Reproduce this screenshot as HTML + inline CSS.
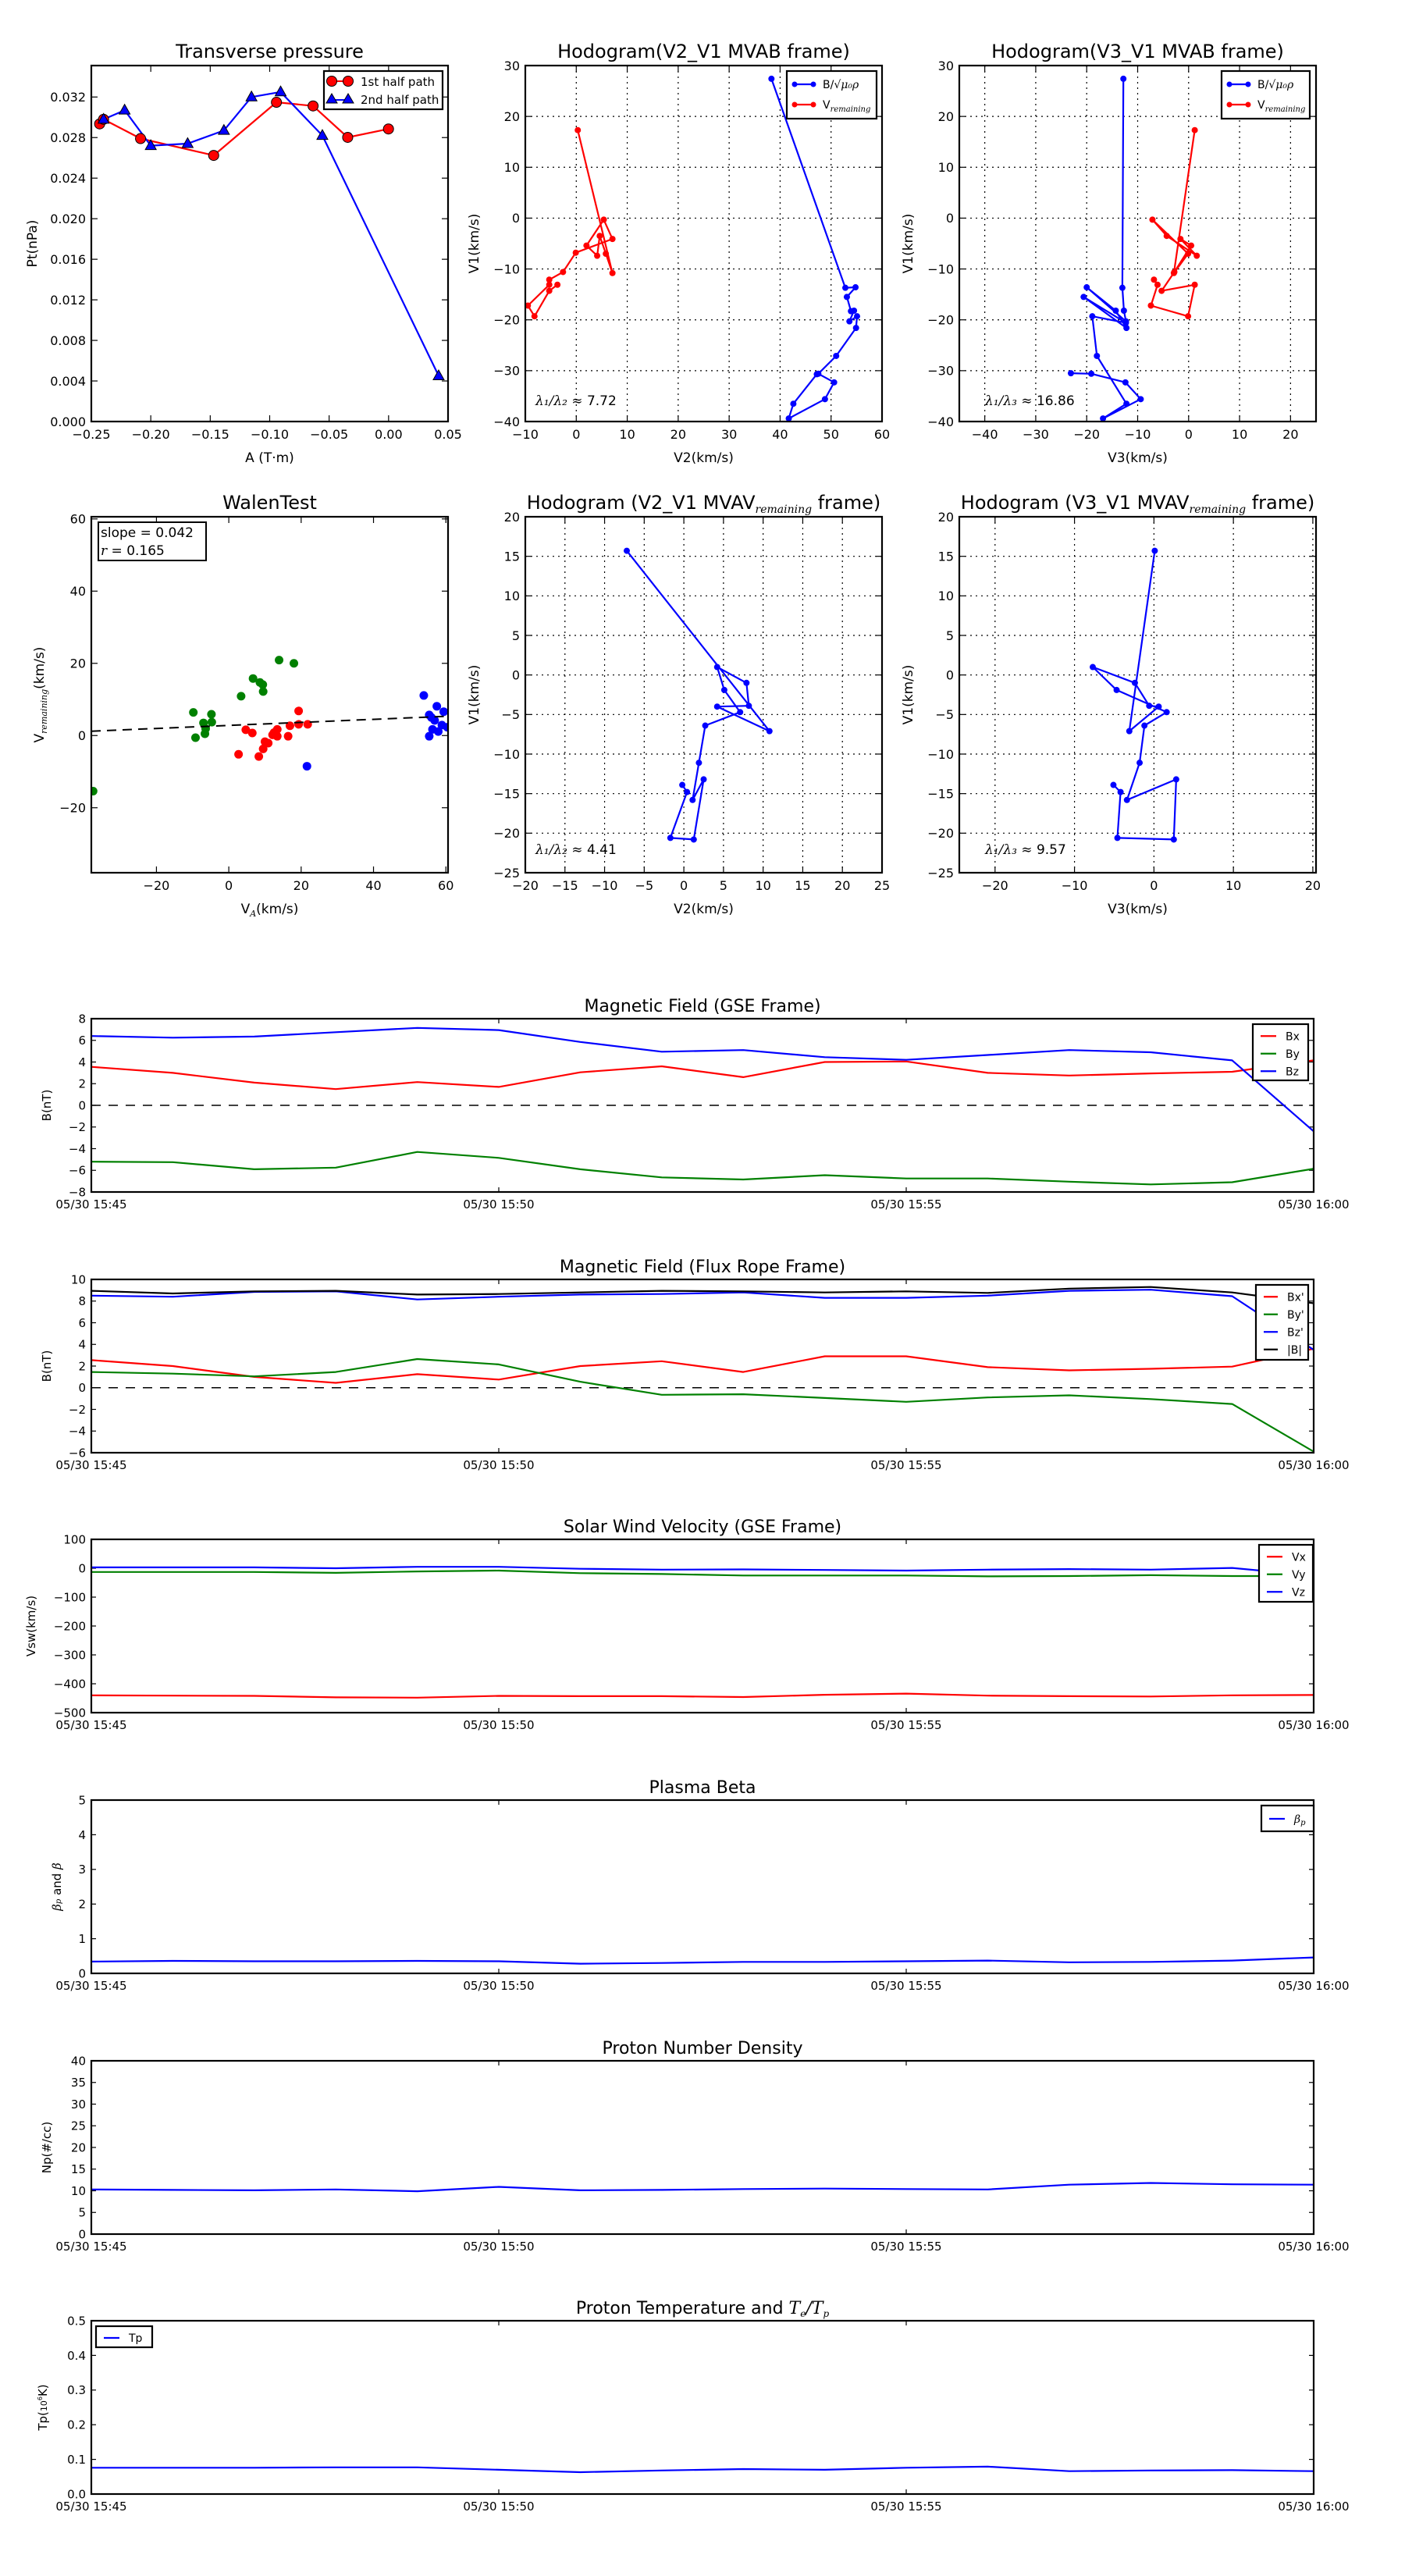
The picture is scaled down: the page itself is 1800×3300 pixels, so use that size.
<!DOCTYPE html>
<html><head><meta charset="utf-8"><title>Flux rope analysis</title>
<style>html,body{margin:0;padding:0;background:#fff}svg{display:block}text{font-family:"DejaVu Sans","Liberation Sans",sans-serif;fill:#000}</style>
</head><body>
<svg id="fig" xmlns="http://www.w3.org/2000/svg" width="1800" height="3300" viewBox="0 0 1800 3300"></svg>
<script>
// ---------- data ----------
const tpA1 = [-0.243,-0.2397,-0.2086,-0.1471,-0.0943,-0.0635,-0.0344,-0.0001];
const tpP1 = [0.02935,0.0298,0.0279,0.02624,0.03148,0.03112,0.02802,0.02885];
const tpA2 = [-0.2397,-0.222,-0.200,-0.169,-0.1385,-0.1153,-0.0908,-0.0557,0.0421];
const tpP2 = [0.0298,0.0307,0.0272,0.0274,0.0287,0.0320,0.0325,0.0282,0.0045];

const hbV2 = [38.3,52.8,54.8,53.1,53.9,54.5,53.6,55.1,54.9,51.0,47.5,50.6,48.8,41.7,42.6,47.2];
const hbV1 = [27.4,-13.7,-13.6,-15.5,-18.3,-18.2,-20.3,-19.3,-21.6,-27.1,-30.6,-32.3,-35.6,-39.4,-36.5,-30.7];
const hvV2 = [0.3,7.1,5.8,4.6,4.1,2.0,5.4,7.1,-0.1,-2.6,-5.3,-5.3,-9.5,-8.2,-5.3,-3.7];
const hvV1 = [17.3,-10.8,-7.0,-3.5,-7.4,-5.4,-0.3,-4.1,-6.8,-10.6,-12.1,-13.1,-17.2,-19.3,-14.3,-13.1];

const hbV3 = [-12.8,-13.0,-12.7,-12.3,-20.0,-14.3,-12.2,-20.6,-12.3,-18.9,-18.0,-12.2,-16.8,-9.4,-12.4,-19.1,-23.1];
const hbV1b = [27.4,-13.7,-18.2,-20.3,-13.6,-18.2,-21.6,-15.5,-20.6,-19.3,-27.1,-36.5,-39.4,-35.6,-32.3,-30.6,-30.5];
const hvV3 = [1.2,-2.9,-0.1,-7.1,-4.3,1.6,-1.6,0.5,-2.8,-5.3,1.2,-0.1,-7.4,-6.1,-6.8];
const hvV1b = [17.3,-10.8,-7.0,-0.3,-3.5,-7.4,-4.1,-5.4,-10.6,-14.3,-13.1,-19.3,-17.2,-13.1,-12.1];

const mvV2 = [-7.2,10.8,4.2,8.2,7.9,4.2,5.1,7.1,2.7,1.9,1.1,2.5,1.25,-1.7,0.4,-0.2];
const mvV3 = [0.1,-3.1,0.6,-0.6,-2.4,-7.7,-4.7,1.6,-1.2,-1.8,-3.4,2.8,2.5,-4.6,-4.2,-5.1];
const mvV1 = [15.7,-7.1,-4.0,-3.9,-1.0,1.0,-1.9,-4.7,-6.4,-11.1,-15.8,-13.2,-20.8,-20.6,-14.8,-13.9];

const wgX = [-9.8,-9.2,-7.0,-6.6,-6.4,-4.8,-4.7,3.4,6.7,8.6,9.4,9.5,13.9,18.0,-37.5];
const wgY = [6.4,-0.6,3.5,0.5,1.9,5.9,3.7,10.9,15.8,14.7,14.1,12.2,20.9,20.0,-15.4];
const wrX = [2.7,4.7,6.5,8.3,9.5,10.0,10.9,12.1,12.5,13.4,13.4,16.4,16.9,19.3,19.3,21.8];
const wrY = [-5.2,1.6,0.7,-5.8,-3.7,-1.7,-2.1,0.2,0.8,1.7,-0.2,-0.2,2.7,6.8,3.1,3.1];
const wbX = [21.6,53.9,55.4,57.5,59.4,55.4,56.3,57.9,56.9,58.9,60.4,56.0];
const wbY = [-8.5,11.1,5.7,8.1,6.6,-0.2,1.7,1.1,4.2,2.9,2.3,5.0];
const walenSlope = 0.042;
const walenIntercept = 2.8;

const minutes = [0,1,2,3,4,5,6,7,8,9,10,11,12,13,14,15];
const timeTickMin = [0,5,10,15];
const timeTickLabels = ["05/30 15:45","05/30 15:50","05/30 15:55","05/30 16:00"];
const gseBx = [3.55,3.0,2.1,1.5,2.15,1.7,3.05,3.6,2.6,4.0,4.05,3.0,2.75,2.95,3.1,4.15];
const gseBy = [-5.2,-5.25,-5.9,-5.75,-4.3,-4.85,-5.9,-6.65,-6.85,-6.45,-6.75,-6.75,-7.05,-7.3,-7.1,-5.85];
const gseBz = [6.4,6.25,6.35,6.75,7.15,6.95,5.85,4.95,5.1,4.45,4.2,4.65,5.1,4.9,4.15,-2.4];
const frBx = [2.55,2.0,1.0,0.45,1.25,0.75,2.0,2.45,1.45,2.9,2.9,1.9,1.6,1.75,1.95,3.6];
const frBy = [1.45,1.3,1.05,1.45,2.65,2.15,0.55,-0.65,-0.6,-0.95,-1.3,-0.9,-0.7,-1.05,-1.5,-5.9];
const frBz = [8.5,8.4,8.85,8.9,8.15,8.4,8.6,8.65,8.8,8.3,8.3,8.5,8.95,9.05,8.45,3.5];
const frBt = [8.95,8.7,8.9,8.95,8.6,8.65,8.8,8.95,8.9,8.8,8.9,8.75,9.15,9.3,8.8,7.8];
const vx = [-440,-441,-442,-447,-448,-442,-443,-443,-446,-438,-434,-441,-443,-444,-440,-439];
const vy = [-13,-13,-13,-16,-11,-8,-17,-20,-25,-25,-25,-28,-27,-24,-27,-27];
const vz = [3,3,3,0,5,5,-2,-5,-4,-6,-8,-5,-3,-5,1,-25];
const betaP = [0.34,0.36,0.35,0.35,0.36,0.35,0.28,0.30,0.33,0.33,0.35,0.37,0.32,0.33,0.37,0.46];
const np = [10.3,10.2,10.1,10.3,9.9,10.9,10.1,10.2,10.4,10.5,10.4,10.3,11.4,11.8,11.5,11.4];
const tp = [0.076,0.076,0.076,0.077,0.077,0.070,0.063,0.068,0.072,0.070,0.076,0.079,0.066,0.068,0.069,0.066];

// ---------- helpers ----------
const NS = "http://www.w3.org/2000/svg";
const fig = document.getElementById("fig");
function mk(tag, attrs, parent) {
  const e = document.createElementNS(NS, tag);
  for (const k in attrs) e.setAttribute(k, attrs[k]);
  (parent || fig).appendChild(e);
  return e;
}
function lin(d0, d1, r0, r1) { return v => r0 + (v - d0) * (r1 - r0) / (d1 - d0); }
function rng(a, b, s) { const o = []; for (let v = a; v <= b + s * 1e-6; v += s) o.push(+v.toFixed(6)); return o; }
function fmt(v, dec) { const s = Math.abs(v).toFixed(dec); return (v < 0 ? "\u2212" : "") + s; }

function makeAxes(c) {
  const g = mk("g", {});
  
  
  const sx = lin(c.xmin, c.xmax, c.x0, c.x1);
  const sy = lin(c.ymin, c.ymax, c.y1, c.y0);
  const clipId = "clip-" + c.name;
  const cp = mk("clipPath", {id: clipId}, g);
  mk("rect", {x: c.x0, y: c.y0, width: c.x1 - c.x0, height: c.y1 - c.y0}, cp);
  if (c.grid) {
    c.xticks.forEach(t => { if (t > c.xmin && t < c.xmax) { const l = mk("line", {x1: sx(t), x2: sx(t), y1: c.y0, y2: c.y1, stroke: "#000", "stroke-width": 1.2, "stroke-dasharray": "2,5"}, g);
      
       } });
    c.yticks.forEach(t => { if (t > c.ymin && t < c.ymax) { const l = mk("line", {x1: c.x0, x2: c.x1, y1: sy(t), y2: sy(t), stroke: "#000", "stroke-width": 1.2, "stroke-dasharray": "2,5"}, g);
      
       } });
  }
  const tl = c.tickLen || 8;
  const fs = c.tickFont || 16;
  c.xticks.forEach((t, i) => {
    const x = sx(t);
    mk("line", {x1: x, x2: x, y1: c.y1, y2: c.y1 - tl, stroke: "#000", "stroke-width": 1.2}, g);
    mk("line", {x1: x, x2: x, y1: c.y0, y2: c.y0 + tl, stroke: "#000", "stroke-width": 1.2}, g);
    const tx = mk("text", {x: x, y: c.y1 + fs + 6, "text-anchor": "middle", "font-size": fs}, g);
    tx.textContent = c.xlabels[i];
    
    
  });
  c.yticks.forEach((t, i) => {
    const y = sy(t);
    mk("line", {x1: c.x0, x2: c.x0 + tl, y1: y, y2: y, stroke: "#000", "stroke-width": 1.2}, g);
    mk("line", {x1: c.x1, x2: c.x1 - tl, y1: y, y2: y, stroke: "#000", "stroke-width": 1.2}, g);
    const ty = mk("text", {x: c.x0 - 7, y: y + fs * 0.36, "text-anchor": "end", "font-size": fs}, g);
    ty.textContent = c.ylabels[i];
    
    
  });
  const plot = mk("g", {"clip-path": "url(#" + clipId + ")"}, g);
  
  
  const frame = mk("rect", {x: c.x0, y: c.y0, width: c.x1 - c.x0, height: c.y1 - c.y0, fill: "none", stroke: "#000", "stroke-width": 2.2}, g);
  
  
  const ttl = mk("text", {x: (c.x0 + c.x1) / 2, y: c.y0 - (c.titleGap || 10), "text-anchor": "middle", "font-size": c.titleFont || 24}, g);
  ttl.innerHTML = c.title;
  
  
  if (c.xtitle) {
    const xt = mk("text", {x: (c.x0 + c.x1) / 2, y: c.y1 + (c.xtitleGap || 52), "text-anchor": "middle", "font-size": c.axFont || 17}, g);
    xt.innerHTML = c.xtitle;
    
    
  }
  if (c.ytitle) {
    const yx = c.ytitleX, yy = (c.y0 + c.y1) / 2;
    const yt = mk("text", {x: yx, y: yy, "text-anchor": "middle", "font-size": c.axFont || 17, transform: "rotate(-90 " + yx + " " + yy + ")"}, g);
    yt.innerHTML = c.ytitle;
    
    
  }
  return {sx, sy, g, plot};
}
function series(ax, xs, ys, color, name, width) {
  const pts = xs.map((x, i) => ax.sx(x).toFixed(1) + "," + ax.sy(ys[i]).toFixed(1)).join(" ");
  const pl = mk("polyline", {points: pts, fill: "none", stroke: color, "stroke-width": width || 2.2, "stroke-linejoin": "round"}, ax.plot);
  
  
  return pl;
}
function dots(ax, xs, ys, color, r, name) {
  xs.forEach((x, i) => {
    const c = mk("circle", {cx: ax.sx(x), cy: ax.sy(ys[i]), r: r, fill: color}, ax.plot);
    
    
  });
}
function legend(x, y, w, h, entries, fs, rowH, lineLen, marker) {
  const g = mk("g", {});
  
  
  mk("rect", {x: x, y: y, width: w, height: h, fill: "#fff", stroke: "#000", "stroke-width": 2.2}, g);
  entries.forEach((e, i) => {
    const cy = y + rowH * (i + 0.5) + 4;
    const eg = mk("g", {}, g);
    
    
    mk("line", {x1: x + 10, x2: x + 10 + lineLen, y1: cy, y2: cy, stroke: e.c, "stroke-width": 2.2}, eg);
    if (marker === "dot") { mk("circle", {cx: x + 10, cy: cy, r: 3.5, fill: e.c}, eg); mk("circle", {cx: x + 10 + lineLen, cy: cy, r: 3.5, fill: e.c}, eg); }
    const t = mk("text", {x: x + 22 + lineLen, y: cy + fs * 0.36, "font-size": fs}, eg);
    t.innerHTML = e.t;
  });
}

// ---------- Panel 1: Transverse pressure ----------
(function () {
  const ax = makeAxes({name: "transverse-pressure", x0: 117, x1: 574, y0: 84, y1: 540, xmin: -0.25, xmax: 0.05, ymin: 0, ymax: 0.0351,
    xticks: rng(-0.25, 0.05, 0.05), xlabels: rng(-0.25, 0.05, 0.05).map(v => fmt(v, 2)),
    yticks: rng(0, 0.032, 0.004), ylabels: rng(0, 0.032, 0.004).map(v => fmt(v, 3)),
    title: "Transverse pressure", xtitle: "A (T\u00b7m)", ytitle: "Pt(nPa)", ytitleX: 47});
  series(ax, tpA1, tpP1, "#ff0000", "first-half-path-line");
  series(ax, tpA2, tpP2, "#0000ff", "second-half-path-line");
  tpA1.forEach((a, i) => {
    const c = mk("circle", {cx: ax.sx(a), cy: ax.sy(tpP1[i]), r: 6.5, fill: "#ff0000", stroke: "#000", "stroke-width": 1}, ax.g);
    
    
  });
  tpA2.forEach((a, i) => {
    const x = ax.sx(a), y = ax.sy(tpP2[i]);
    const p = mk("polygon", {points: `${x},${y - 7.5} ${x - 7},${y + 5} ${x + 7},${y + 5}`, fill: "#0000ff", stroke: "#000", "stroke-width": 1}, ax.g);
    
    
  });
  const g = mk("g", {});
  
  
  mk("rect", {x: 415, y: 91, width: 152, height: 49, fill: "#fff", stroke: "#000", "stroke-width": 2.2}, g);
  mk("line", {x1: 425, x2: 446, y1: 104, y2: 104, stroke: "#ff0000", "stroke-width": 2}, g);
  mk("circle", {cx: 425, cy: 104, r: 6.5, fill: "#ff0000", stroke: "#000"}, g);
  mk("circle", {cx: 446, cy: 104, r: 6.5, fill: "#ff0000", stroke: "#000"}, g);
  let t = mk("text", {x: 462, y: 110, "font-size": 15}, g); t.textContent = "1st half path";
  mk("line", {x1: 425, x2: 446, y1: 128, y2: 128, stroke: "#0000ff", "stroke-width": 2}, g);
  mk("polygon", {points: "425,120 418,132 432,132", fill: "#0000ff", stroke: "#000"}, g);
  mk("polygon", {points: "446,120 439,132 453,132", fill: "#0000ff", stroke: "#000"}, g);
  t = mk("text", {x: 462, y: 133, "font-size": 15}, g); t.textContent = "2nd half path";
})();

const bLeg = [{c: "#0000ff", t: "B/<tspan font-family='DejaVu Serif' font-style='italic'>\u221a\u03bc\u2080\u03c1</tspan>"},
              {c: "#ff0000", t: "V<tspan font-size='10' dy='4' font-style='italic' font-family='DejaVu Serif'>remaining</tspan>"}];

// ---------- Panel 2 ----------
(function () {
  const ax = makeAxes({name: "hodogram-v2-v1-mvab", x0: 673, x1: 1130, y0: 84, y1: 540, xmin: -10, xmax: 60, ymin: -40, ymax: 30, grid: true,
    xticks: rng(-10, 60, 10), xlabels: rng(-10, 60, 10).map(v => fmt(v, 0)),
    yticks: rng(-40, 30, 10), ylabels: rng(-40, 30, 10).map(v => fmt(v, 0)),
    title: "Hodogram(V2_V1 MVAB frame)", xtitle: "V2(km/s)", ytitle: "V1(km/s)", ytitleX: 613});
  series(ax, hbV2, hbV1, "#0000ff", "b-hodogram-line"); dots(ax, hbV2, hbV1, "#0000ff", 4, "b-hodogram-point");
  series(ax, hvV2, hvV1, "#ff0000", "v-hodogram-line"); dots(ax, hvV2, hvV1, "#ff0000", 4, "v-hodogram-point");
  legend(1008, 91, 115, 61, bLeg, 14, 26, 24, "dot");
  const t = mk("text", {x: 686, y: 519, "font-size": 17}); t.innerHTML = "<tspan font-family='DejaVu Serif' font-style='italic'>\u03bb\u2081/\u03bb\u2082 \u2248</tspan> 7.72";
  
  
})();

// ---------- Panel 3 ----------
(function () {
  const ax = makeAxes({name: "hodogram-v3-v1-mvab", x0: 1229, x1: 1686, y0: 84, y1: 540, xmin: -45, xmax: 25, ymin: -40, ymax: 30, grid: true,
    xticks: rng(-40, 20, 10), xlabels: rng(-40, 20, 10).map(v => fmt(v, 0)),
    yticks: rng(-40, 30, 10), ylabels: rng(-40, 30, 10).map(v => fmt(v, 0)),
    title: "Hodogram(V3_V1 MVAB frame)", xtitle: "V3(km/s)", ytitle: "V1(km/s)", ytitleX: 1169});
  series(ax, hbV3, hbV1b, "#0000ff", "b-hodogram-line"); dots(ax, hbV3, hbV1b, "#0000ff", 4, "b-hodogram-point");
  series(ax, hvV3, hvV1b, "#ff0000", "v-hodogram-line"); dots(ax, hvV3, hvV1b, "#ff0000", 4, "v-hodogram-point");
  legend(1565, 91, 113, 61, bLeg, 14, 26, 24, "dot");
  const t = mk("text", {x: 1262, y: 519, "font-size": 17}); t.innerHTML = "<tspan font-family='DejaVu Serif' font-style='italic'>\u03bb\u2081/\u03bb\u2083 \u2248</tspan> 16.86";
  
  
})();

// ---------- Panel 4: Walen ----------
(function () {
  const ax = makeAxes({name: "walen-test", x0: 117, x1: 574, y0: 662, y1: 1118, xmin: -38, xmax: 60.6, ymin: -38, ymax: 60.6,
    xticks: rng(-20, 60, 20), xlabels: rng(-20, 60, 20).map(v => fmt(v, 0)),
    yticks: rng(-20, 60, 20), ylabels: rng(-20, 60, 20).map(v => fmt(v, 0)),
    title: "WalenTest", xtitle: "V<tspan font-size='11' dy='4' font-style='italic' font-family='DejaVu Serif'>A</tspan><tspan dy='-4'>(km/s)</tspan>",
    ytitle: "V<tspan font-size='11' dy='4' font-style='italic' font-family='DejaVu Serif'>remaining</tspan><tspan dy='-4'>(km/s)</tspan>", ytitleX: 56});
  dots(ax, wgX, wgY, "#008000", 5.5, "walen-green-point");
  dots(ax, wrX, wrY, "#ff0000", 5.5, "walen-red-point");
  dots(ax, wbX, wbY, "#0000ff", 5.5, "walen-blue-point");
  const fx = [-38, 60.6];
  const fl = series(ax, fx, fx.map(x => walenSlope * x + walenIntercept), "#000", "walen-fit-line", 2);
  fl.setAttribute("stroke-dasharray", "12,8");
  const g = mk("g", {});
  
  
  mk("rect", {x: 126, y: 669, width: 138, height: 49, fill: "#fff", stroke: "#000", "stroke-width": 2}, g);
  let t = mk("text", {x: 129, y: 688, "font-size": 17}, g); t.textContent = "slope = 0.042";
  t = mk("text", {x: 129, y: 711, "font-size": 17}, g); t.innerHTML = "<tspan font-style='italic' font-family='DejaVu Serif'>r</tspan> = 0.165";
})();

// ---------- Panel 5 ----------
(function () {
  const ax = makeAxes({name: "hodogram-v2-v1-mvav", x0: 673, x1: 1130, y0: 662, y1: 1118, xmin: -20, xmax: 25, ymin: -25, ymax: 20, grid: true,
    xticks: rng(-20, 25, 5), xlabels: rng(-20, 25, 5).map(v => fmt(v, 0)),
    yticks: rng(-25, 20, 5), ylabels: rng(-25, 20, 5).map(v => fmt(v, 0)),
    title: "Hodogram (V2_V1 MVAV<tspan font-size='14' dy='5' font-style='italic' font-family='DejaVu Serif'>remaining</tspan><tspan dy='-5'> frame)</tspan>",
    xtitle: "V2(km/s)", ytitle: "V1(km/s)", ytitleX: 613});
  series(ax, mvV2, mvV1, "#0000ff", "mvav-hodogram-line"); dots(ax, mvV2, mvV1, "#0000ff", 4, "mvav-hodogram-point");
  const t = mk("text", {x: 686, y: 1094, "font-size": 17}); t.innerHTML = "<tspan font-family='DejaVu Serif' font-style='italic'>\u03bb\u2081/\u03bb\u2082 \u2248</tspan> 4.41";
  
  
})();

// ---------- Panel 6 ----------
(function () {
  const ax = makeAxes({name: "hodogram-v3-v1-mvav", x0: 1229, x1: 1686, y0: 662, y1: 1118, xmin: -24.5, xmax: 20.4, ymin: -25, ymax: 20, grid: true,
    xticks: rng(-20, 20, 10), xlabels: rng(-20, 20, 10).map(v => fmt(v, 0)),
    yticks: rng(-25, 20, 5), ylabels: rng(-25, 20, 5).map(v => fmt(v, 0)),
    title: "Hodogram (V3_V1 MVAV<tspan font-size='14' dy='5' font-style='italic' font-family='DejaVu Serif'>remaining</tspan><tspan dy='-5'> frame)</tspan>",
    xtitle: "V3(km/s)", ytitle: "V1(km/s)", ytitleX: 1169});
  series(ax, mvV3, mvV1, "#0000ff", "mvav-hodogram-line"); dots(ax, mvV3, mvV1, "#0000ff", 4, "mvav-hodogram-point");
  const t = mk("text", {x: 1262, y: 1094, "font-size": 17}); t.innerHTML = "<tspan font-family='DejaVu Serif' font-style='italic'>\u03bb\u2081/\u03bb\u2083 \u2248</tspan> 9.57";
  
  
})();

// ---------- Time series ----------
function timePanel(name, top, ymin, ymax, ystep, dec, title, ytitle, ytitleX) {
  return makeAxes({name: name, x0: 117, x1: 1683, y0: top, y1: top + 222, xmin: 0, xmax: 15, ymin: ymin, ymax: ymax,
    xticks: timeTickMin, xlabels: timeTickLabels, tickFont: 15, tickLen: 6,
    yticks: rng(ymin, ymax, ystep), ylabels: rng(ymin, ymax, ystep).map(v => fmt(v, dec)),
    title: title, titleFont: 22, titleGap: 9, ytitle: ytitle, ytitleX: ytitleX, axFont: 15});
}
function zeroLine(ax) {
  const l = mk("line", {x1: ax.sx(0), x2: ax.sx(15), y1: ax.sy(0), y2: ax.sy(0), stroke: "#000", "stroke-width": 1.5, "stroke-dasharray": "12,10"}, ax.plot);
  
  
}

(function () {
  const ax = timePanel("magnetic-field-gse", 1305, -8, 8, 2, 0, "Magnetic Field (GSE Frame)", "B(nT)", 65);
  zeroLine(ax);
  series(ax, minutes, gseBx, "#ff0000", "bx-line");
  series(ax, minutes, gseBy, "#008000", "by-line");
  series(ax, minutes, gseBz, "#0000ff", "bz-line");
  legend(1605, 1312, 71, 72, [{c: "#ff0000", t: "Bx"}, {c: "#008000", t: "By"}, {c: "#0000ff", t: "Bz"}], 14, 22.5, 20);
})();
(function () {
  const ax = timePanel("magnetic-field-flux-rope", 1639, -6, 10, 2, 0, "Magnetic Field (Flux Rope Frame)", "B(nT)", 65);
  zeroLine(ax);
  series(ax, minutes, frBx, "#ff0000", "bx-prime-line");
  series(ax, minutes, frBy, "#008000", "by-prime-line");
  series(ax, minutes, frBz, "#0000ff", "bz-prime-line");
  series(ax, minutes, frBt, "#000000", "b-magnitude-line");
  legend(1609, 1646, 67, 96, [{c: "#ff0000", t: "Bx'"}, {c: "#008000", t: "By'"}, {c: "#0000ff", t: "Bz'"}, {c: "#000", t: "|B|"}], 14, 22.5, 18);
})();
(function () {
  const ax = timePanel("solar-wind-velocity", 1972, -500, 100, 100, 0, "Solar Wind Velocity (GSE Frame)", "Vsw(km/s)", 45);
  series(ax, minutes, vx, "#ff0000", "vx-line");
  series(ax, minutes, vy, "#008000", "vy-line");
  series(ax, minutes, vz, "#0000ff", "vz-line");
  legend(1613, 1979, 69, 73, [{c: "#ff0000", t: "Vx"}, {c: "#008000", t: "Vy"}, {c: "#0000ff", t: "Vz"}], 14, 22.5, 20);
})();
(function () {
  const ax = timePanel("plasma-beta", 2306, 0, 5, 1, 0, "Plasma Beta",
    "<tspan font-style='italic' font-family='DejaVu Serif'>\u03b2</tspan><tspan font-size='10' font-style='italic' font-family='DejaVu Serif'>p</tspan> and <tspan font-style='italic' font-family='DejaVu Serif'>\u03b2</tspan>", 78);
  series(ax, minutes, betaP, "#0000ff", "beta-p-line");
  legend(1616, 2313, 67, 33, [{c: "#0000ff", t: "<tspan font-style='italic' font-family='DejaVu Serif'>\u03b2</tspan><tspan font-size='10' dy='3' font-style='italic' font-family='DejaVu Serif'>p</tspan>"}], 14, 26, 20);
})();
(function () {
  const ax = timePanel("proton-number-density", 2640, 0, 40, 5, 0, "Proton Number Density", "Np(#/cc)", 65);
  series(ax, minutes, np, "#0000ff", "np-line");
})();
(function () {
  const ax = timePanel("proton-temperature", 2973, 0, 0.5, 0.1, 1, "Proton Temperature and <tspan font-style='italic' font-family='DejaVu Serif'>T</tspan><tspan font-size='12' dy='4' font-style='italic' font-family='DejaVu Serif'>e</tspan><tspan dy='-4' font-style='italic' font-family='DejaVu Serif'>/T</tspan><tspan font-size='12' dy='4' font-style='italic' font-family='DejaVu Serif'>p</tspan>",
    "Tp(<tspan font-size='11'>10</tspan><tspan font-size='8' dy='-6'>6</tspan><tspan dy='6'>K)</tspan>", 60);
  series(ax, minutes, tp, "#0000ff", "tp-line");
  legend(123, 2980, 72, 27, [{c: "#0000ff", t: "Tp"}], 14, 22, 20);
})();
</script>
</body></html>
